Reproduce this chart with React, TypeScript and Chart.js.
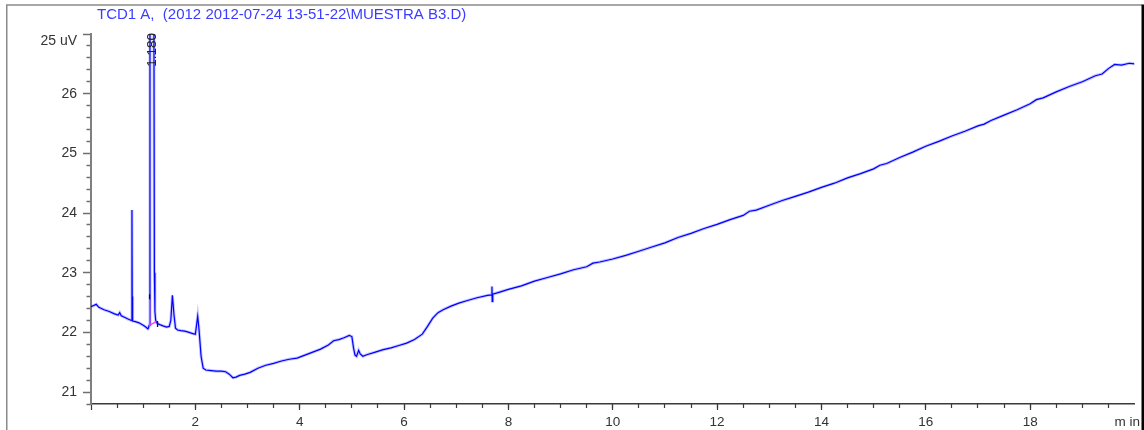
import React, { useEffect, useRef } from 'react';
import { Chart, registerables } from 'chart.js';

Chart.register(...registerables);

const FONT = '"Liberation Sans", Arial, Helvetica, sans-serif';
const TITLE = 'TCD1 A,  (2012 2012-07-24 13-51-22\\MUESTRA B3.D)';

// TCD trace: retention time (min) and detector signal
const timeMin = [
  0.0, 0.05, 0.1, 0.15, 0.25, 0.35, 0.45, 0.52, 0.55, 0.58, 0.65, 0.72, 0.775, 0.785, 0.79, 0.795,
  0.8, 0.85, 0.92, 1.0, 1.05, 1.09, 1.1, 1.115, 1.13, 1.17, 1.2, 1.215, 1.225, 1.24, 1.27, 1.32,
  1.38, 1.45, 1.5, 1.53, 1.56, 1.59, 1.62, 1.66, 1.72, 1.8, 1.88, 1.95, 2.0, 2.02, 2.045, 2.07,
  2.11, 2.15, 2.2, 2.3, 2.4, 2.5, 2.58, 2.65, 2.72, 2.78, 2.85, 2.95, 3.05, 3.2, 3.35, 3.5,
  3.65, 3.8, 3.95, 4.1, 4.25, 4.4, 4.55, 4.65, 4.75, 4.85, 4.95, 5.0, 5.03, 5.06, 5.09, 5.13,
  5.16, 5.21, 5.3, 5.45, 5.6, 5.75, 5.9, 6.05, 6.2, 6.35, 6.45, 6.55, 6.65, 6.75, 6.9, 7.05,
  7.2, 7.4, 7.6, 7.68, 7.685, 7.69, 7.7, 7.85, 8.0, 8.25, 8.5, 8.75, 9.0, 9.25, 9.5, 9.62,
  9.75, 10.0, 10.25, 10.5, 10.75, 11.0, 11.25, 11.5, 11.75, 12.0, 12.25, 12.5, 12.62, 12.75, 13.0, 13.25,
  13.5, 13.75, 14.0, 14.25, 14.5, 14.75, 15.0, 15.12, 15.25, 15.5, 15.75, 16.0, 16.25, 16.5, 16.75, 17.0,
  17.12, 17.25, 17.5, 17.75, 18.0, 18.12, 18.25, 18.5, 18.75, 19.0, 19.25, 19.38, 19.5, 19.62, 19.75, 19.9,
  20.0,
];
const signal = [
  22.43, 22.45, 22.47, 22.42, 22.38, 22.35, 22.31, 22.29, 22.33, 22.28, 22.25, 22.22, 22.2, 24.05, 22.6, 22.3,
  22.19, 22.18, 22.16, 22.12, 22.09, 22.06, 22.07, 22.12, 30, 60, 30, 23.0, 22.35, 22.2, 22.15, 22.13,
  22.11, 22.09, 22.1, 22.2, 22.62, 22.3, 22.07, 22.04, 22.03, 22.02, 22.0, 21.98, 21.97, 22.1, 22.27, 22.05,
  21.6, 21.4, 21.37, 21.36, 21.35, 21.35, 21.34, 21.3, 21.24, 21.25, 21.28, 21.3, 21.33, 21.4, 21.45, 21.48,
  21.52, 21.55, 21.57, 21.62, 21.67, 21.72, 21.79, 21.86, 21.88, 21.91, 21.95, 21.93, 21.75, 21.62, 21.6, 21.7,
  21.64, 21.6, 21.63, 21.67, 21.71, 21.74, 21.78, 21.82, 21.88, 21.97, 22.1, 22.24, 22.33, 22.38, 22.44, 22.49,
  22.53, 22.58, 22.62, 22.63, 22.77, 22.52, 22.64, 22.68, 22.72, 22.78, 22.86, 22.92, 22.98, 23.05, 23.1, 23.16,
  23.18, 23.23, 23.29, 23.36, 23.43, 23.5, 23.59, 23.66, 23.74, 23.81, 23.89, 23.96, 24.03, 24.05, 24.13, 24.21,
  24.28, 24.35, 24.43, 24.5, 24.59, 24.66, 24.74, 24.8, 24.83, 24.93, 25.02, 25.12, 25.2, 25.29, 25.37, 25.46,
  25.49, 25.55, 25.64, 25.73, 25.83, 25.9, 25.93, 26.03, 26.12, 26.2, 26.3, 26.33, 26.42, 26.49, 26.48, 26.51,
  26.5,
];

// Integration baseline drawn under the 1.180 peak
const baselineTime = [1.123, 1.123, 1.25];
const baselineSignal = [22.55, 22.12, 22.18];

// Peak start / stop marks (null breaks the line)
const markTime = [1.123, 1.123, 1.2, 1.275, 1.275];
const markSignal = [22.55, 22.64, null, 22.19, 22.09];

const peakLabelTime = 1.18;
const peakLabel = '1.180';

// Axes
const xMin = 0;
const xMax = 20;
const yMin = 20.8;
const yMax = 27;
const timeUnitTick = 19.86;
const timeUnitLabel = 'm in';
const signalUnitTick = 27;
const signalUnitLabel = '25 uV';
const xMajorTicks = [0, 2, 4, 6, 8, 10, 12, 14, 16, 18, timeUnitTick];
const xMinorTicks = [
  0.5, 1, 1.5, 2, 2.5, 3, 3.5, 4, 4.5, 5, 5.5, 6, 6.5, 7, 7.5, 8, 8.5, 9, 9.5, 10,
  10.5, 11, 11.5, 12, 12.5, 13, 13.5, 14, 14.5, 15, 15.5, 16, 16.5, 17, 17.5, 18, 18.5, 19, 19.5,
];
const yMajorTicks = [21, 22, 23, 24, 25, 26, 27];
const yMinorTicks = [
  20.8, 21.2, 21.4, 21.6, 21.8, 22.2, 22.4, 22.6, 22.8, 23.2, 23.4, 23.6, 23.8,
  24.2, 24.4, 24.6, 24.8, 25.2, 25.4, 25.6, 25.8, 26.2, 26.4, 26.6, 26.8,
];

const toPoints = (xs: number[], ys: (number | null)[]) => xs.map((x, i) => ({ x, y: ys[i] }));

const setTicks = (values: number[]) => (scale: any) => {
  scale.ticks = values.map((value) => ({ value }));
};

const decorations = {
  id: 'decorations',
  afterDraw(chart: any) {
    const { ctx, chartArea, scales } = chart;
    ctx.save();

    // report header
    ctx.font = `15px ${FONT}`;
    ctx.fillStyle = '#3c3cff';
    ctx.textBaseline = 'middle';
    ctx.textAlign = 'left';
    ctx.fillText(TITLE, chartArea.left + 6, 15);

    // retention time label above the peak
    ctx.save();
    ctx.translate(scales.x.getPixelForValue(peakLabelTime), chartArea.top - 1);
    ctx.rotate(-Math.PI / 2);
    ctx.font = `13.5px ${FONT}`;
    ctx.fillStyle = '#222';
    ctx.textAlign = 'right';
    ctx.textBaseline = 'middle';
    ctx.fillText(peakLabel, 0, 0);
    ctx.restore();

    // page frame
    ctx.strokeStyle = '#8a8a8a';
    ctx.lineWidth = 1.5;
    ctx.beginPath();
    ctx.moveTo(6.75, 430);
    ctx.lineTo(6.75, 5);
    ctx.lineTo(1142, 5);
    ctx.stroke();
    ctx.fillStyle = '#000';
    ctx.fillRect(1141.5, 4.5, 2.5, 426);

    ctx.restore();
  },
};

export default function App() {
  const canvasRef = useRef<HTMLCanvasElement | null>(null);

  useEffect(() => {
    const canvas = canvasRef.current;
    if (!canvas) return;

    const trace = toPoints(timeMin, signal);

    const chart = new Chart(canvas, {
      type: 'line',
      data: {
        datasets: [
          {
            data: toPoints(baselineTime, baselineSignal),
            borderColor: '#ff2cff',
            borderWidth: 1.2,
            pointRadius: 0,
          },
          {
            data: toPoints(markTime, markSignal),
            borderColor: '#111',
            borderWidth: 1.3,
            pointRadius: 0,
            spanGaps: false,
          },
          {
            data: trace,
            borderColor: '#0000ff',
            borderWidth: 1.2,
            pointRadius: 0,
          },
          {
            data: trace,
            borderColor: 'rgba(60, 60, 255, 0.3)',
            borderWidth: 3,
            pointRadius: 0,
          },
        ],
      },
      plugins: [decorations],
      options: {
        responsive: false,
        animation: false,
        events: [],
        elements: { line: { tension: 0 } },
        layout: {
          autoPadding: false,
          padding: { left: 0, right: 2, top: 34, bottom: 0 },
        },
        plugins: {
          legend: { display: false },
          title: { display: false },
          tooltip: { enabled: false },
        },
        scales: {
          x: {
            type: 'linear',
            position: 'bottom',
            weight: 1,
            min: xMin,
            max: xMax,
            bounds: 'data',
            afterBuildTicks: setTicks(xMajorTicks),
            afterFit: (s: any) => {
              s.height = 26;
            },
            border: { display: true, color: '#3a3a3a', width: 1.5 },
            grid: {
              drawOnChartArea: false,
              drawTicks: true,
              tickLength: 6,
              tickWidth: 1.2,
              tickColor: (c: any) => (c.tick && c.tick.value === timeUnitTick ? 'rgba(0,0,0,0)' : '#3a3a3a'),
            },
            ticks: {
              autoSkip: false,
              maxRotation: 0,
              minRotation: 0,
              padding: 4,
              color: '#333',
              font: { family: FONT, size: 13.5 },
              callback: (v: any) => (v === xMin ? '' : v === timeUnitTick ? timeUnitLabel : String(v)),
            },
          },
          xMinor: {
            type: 'linear',
            position: 'bottom',
            weight: 0,
            min: xMin,
            max: xMax,
            bounds: 'data',
            afterBuildTicks: setTicks(xMinorTicks),
            afterFit: (s: any) => {
              s.height = 0;
            },
            border: { display: false },
            grid: {
              drawOnChartArea: false,
              drawTicks: true,
              tickLength: 4,
              tickWidth: 1.2,
              tickColor: '#3a3a3a',
            },
            ticks: { display: false, autoSkip: false },
          },
          y: {
            type: 'linear',
            position: 'left',
            weight: 1,
            min: yMin,
            max: yMax,
            bounds: 'data',
            afterBuildTicks: setTicks(yMajorTicks),
            afterFit: (s: any) => {
              s.width = 91;
            },
            border: { display: true, color: '#7f7f7f', width: 2 },
            grid: {
              drawOnChartArea: false,
              drawTicks: true,
              tickLength: 8,
              tickWidth: 1.5,
              tickColor: '#6f6f6f',
            },
            ticks: {
              autoSkip: false,
              padding: 6,
              color: '#333',
              font: { family: FONT, size: 14, lineHeight: 1 },
              callback: (v: any) => (v === signalUnitTick ? ['', signalUnitLabel] : String(v)),
            },
          },
          yMinor: {
            type: 'linear',
            position: 'left',
            weight: 0,
            min: yMin,
            max: yMax,
            bounds: 'data',
            afterBuildTicks: setTicks(yMinorTicks),
            afterFit: (s: any) => {
              s.width = 0;
            },
            border: { display: false },
            grid: {
              drawOnChartArea: false,
              drawTicks: true,
              tickLength: 4.5,
              tickWidth: 1.5,
              tickColor: '#6f6f6f',
            },
            ticks: { display: false, autoSkip: false },
          },
        },
      },
    } as any);

    return () => chart.destroy();
  }, []);

  return (
    <div style={{ position: 'absolute', left: 0, top: 0, width: 1144, height: 430, background: '#fff' }}>
      <canvas ref={canvasRef} width={1144} height={430} />
    </div>
  );
}
